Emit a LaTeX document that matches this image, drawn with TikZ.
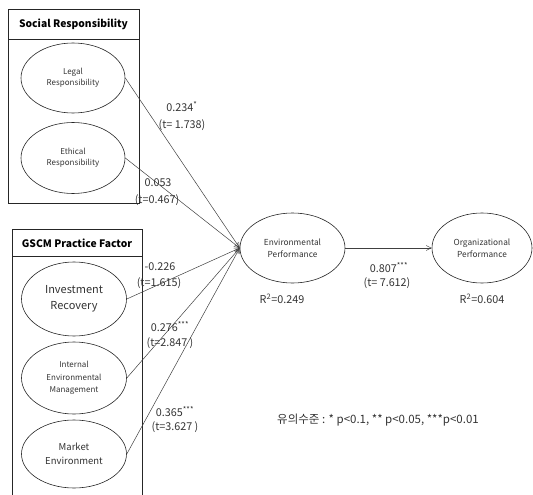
\documentclass[tikz,border=0pt]{standalone}
\usepackage{fontspec}
\setmainfont{Noto Sans CJK KR}
\usetikzlibrary{shapes.geometric,arrows.meta}
\begin{document}
\begin{tikzpicture}[x=1pt,y=-1pt,
  every node/.style={text=black!80},
  lat/.style={draw=black!85, ellipse, inner sep=0pt, align=center, font=\fontsize{8}{11.5}\selectfont, line width=0.6pt},
  arr/.style={draw=black!75, line width=0.5pt, -{Straight Barb[length=5pt,width=5pt]}},
  lbl/.style={font=\fontsize{10.8}{12}\selectfont, inner sep=0pt},
  boxline/.style={draw=black!85, line width=0.6pt},
  ttl/.style={font=\bfseries\fontsize{10.3}{12}\selectfont, text=black}]
\useasboundingbox (0,0) rectangle (533,495);
% Social Responsibility box
\draw[boxline] (8,9) rectangle (139,203);
\draw[boxline] (8,39) -- (139,39);
\node[ttl] (srt) at (73.5,24) {Social Responsibility};
% GSCM box
\draw[boxline] (12,495) -- (12,229) -- (142,229) -- (142,495);
\draw[boxline] (12,256) -- (142,256);
\node[ttl] (gst) at (77,243) {GSCM Practice Factor};
% ellipses
\node[lat, minimum width=104pt, minimum height=70pt] (legal) at (73,78) {Legal\\Responsibility};
\node[lat, minimum width=104pt, minimum height=71pt] (ethic) at (73,158) {Ethical\\Responsibility};
\node[lat, font=\fontsize{11}{16}\selectfont, minimum width=105pt, minimum height=74pt] (inv) at (74,299) {Investment\\Recovery};
\node[lat, font=\fontsize{8}{12.2}\selectfont, minimum width=105pt, minimum height=72pt] (iem) at (74,378) {Internal\\Environmental\\Management};
\node[lat, font=\fontsize{9.5}{14}\selectfont, minimum width=105pt, minimum height=68pt] (mkt) at (74,454) {Market\\Environment};
\node[lat, font=\fontsize{8.3}{12}\selectfont, minimum width=105pt, minimum height=70pt] (env) at (292.5,248) {Environmental\\Performance};
\node[lat, font=\fontsize{8.3}{12}\selectfont, minimum width=100pt, minimum height=70pt] (org) at (482,248) {Organizational\\Performance};
% arrows
\draw[arr] (legal.east) -- (env.west);
\draw[arr] (ethic.east) -- (env.west);
\draw[arr] (inv.east) -- (env.west);
\draw[arr] (iem.east) -- (env.west);
\draw[arr] (mkt.east) -- (env.west);
\draw[arr] (env.east) -- (org.west);
% labels
\node[lbl] (l1a) at (182,107) {0.234\textsuperscript{*}};
\node[lbl] (l1b) at (182,125) {(t= 1.738)};
\node[lbl] (l2a) at (158,183) {0.053};
\node[lbl] (l2b) at (157,200) {(t=0.467)};
\node[lbl] (l3a) at (160,267) {-0.226};
\node[lbl] (l3b) at (159,283) {(t=1.615)};
\node[lbl] (l4a) at (170,327) {0.276\textsuperscript{***}};
\node[lbl] (l4b) at (170,343) {(t=2.847 )};
\node[lbl] (l5a) at (175,412) {0.365\textsuperscript{***}};
\node[lbl] (l5b) at (175,427) {(t=3.627 )};
\node[lbl] (l6a) at (389,268) {0.807\textsuperscript{***}};
\node[lbl] (l6b) at (387,283) {(t= 7.612)};
\node[lbl] (r1) at (282,299) {R\textsuperscript{2}=0.249};
\node[lbl] (r2) at (482,299) {R\textsuperscript{2}=0.604};
\node[lbl, font=\fontsize{11.5}{13}\selectfont] (note) at (378,420) {유의수준 : * p<0.1, ** p<0.05, ***p<0.01};
\end{tikzpicture}
\end{document}
